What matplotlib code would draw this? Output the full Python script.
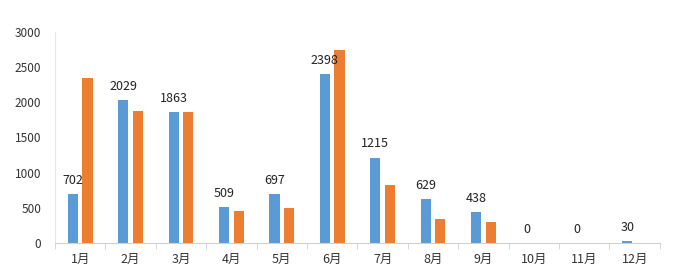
import matplotlib
matplotlib.use("Agg")
import matplotlib.pyplot as plt
import numpy as np

plt.rcParams['font.family'] = ['Noto Sans CJK SC', 'DejaVu Sans']

months = ["1月", "2月", "3月", "4月", "5月", "6月", "7月", "8月", "9月", "10月", "11月", "12月"]
blue_vals = [702, 2029, 1863, 509, 697, 2398, 1215, 629, 438, 0, 0, 30]
orange_vals = [2340, 1880, 1863, 460, 505, 2740, 820, 340, 300, 0, 0, 0]
yticks = [0, 500, 1000, 1500, 2000, 2500, 3000]

BLUE = "#5B9BD5"
ORANGE = "#ED7D31"


def main():
    fig = plt.figure(figsize=(6.82, 2.8), dpi=100)
    ax = fig.add_axes([0.0806, 0.132, 0.887, 0.754])

    x = np.arange(len(months))
    w = 0.2
    off = 0.145
    ax.bar(x - off, blue_vals, width=w, color=BLUE)
    ax.bar(x + off, orange_vals, width=w, color=ORANGE)

    for xi, v in zip(x, blue_vals):
        ax.text(xi - off, v + 100, str(v), ha="center", va="bottom", fontsize=9,
                color="#222222")

    ax.set_xlim(-0.5, len(months) - 0.5)
    ax.set_ylim(0, 3000)
    ax.set_yticks(yticks)
    ax.set_xticks(x)
    ax.set_xticklabels(months, fontsize=9, color="#333333")
    ax.set_xticks(np.arange(-0.5, len(months), 1.0), minor=True)
    ax.tick_params(axis="x", which="major", length=0, pad=7)
    ax.tick_params(axis="x", which="minor", length=4, color="#d0d0d0")
    ax.tick_params(axis="y", length=0, labelsize=8.5, labelcolor="#333333", pad=10)

    for s in ("top", "right"):
        ax.spines[s].set_visible(False)
    ax.spines["left"].set_color("#e6e6e6")
    ax.spines["bottom"].set_color("#d0d0d0")

    fig.savefig("out.png", dpi=100)


if __name__ == "__main__":
    main()
